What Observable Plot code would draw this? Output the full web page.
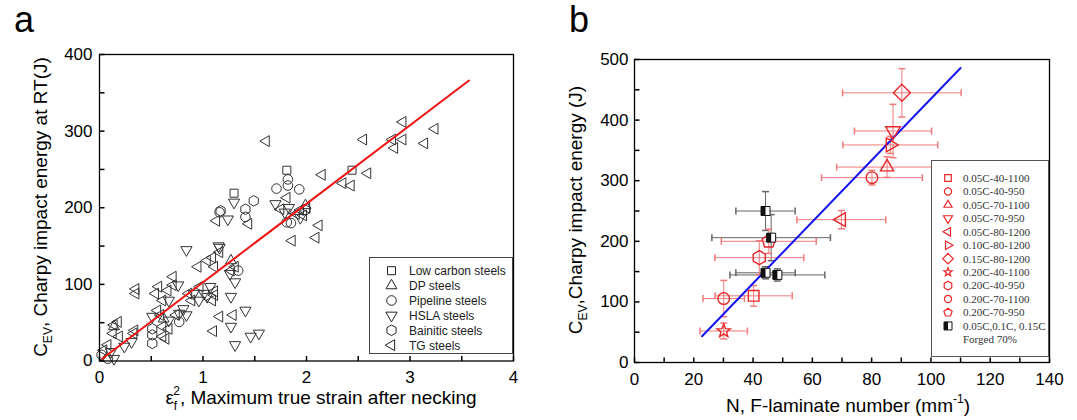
<!DOCTYPE html>
<html><head><meta charset="utf-8">
<script src="https://cdn.jsdelivr.net/npm/d3@7"></script>
<script src="https://cdn.jsdelivr.net/npm/@observablehq/plot@0.6"></script>
<style>
body{margin:0;background:#fff}
#wrap{display:flex;width:1077px;height:420px;overflow:hidden}
svg{display:block}
</style></head>
<body><div id="wrap"></div>
<script>
// ---------- Panel a data: [eps_f^2, Charpy energy (J)] ----------
const lowCarbon = [[1.30,219],[1.81,249],[2.44,249]];
const dpSteels = [[1.27,131],[1.99,203],[0.14,45],[0.62,55]];
const pipeline = [[1.16,194],[1.41,188],[1.71,225],[1.82,237],[1.82,229],[1.93,224],[1.81,181],[1.85,180],[1.34,118],[0.08,3],[0.77,51],[0.02,8]];
const hsla = [[1.30,207],[1.24,185],[0.84,145],[1.16,148],[1.70,205],[1.79,194],[1.94,187],[1.26,114],[1.31,103],[1.27,84],[1.41,66],[1.27,45],[1.31,21],[1.46,32],[1.54,36],[1.07,97],[1.01,88],[1.04,84],[0.96,79],[0.91,88],[0.84,60],[0.81,68],[0.76,99],[0.67,79],[0.77,62],[0.24,19],[0.31,25],[0.14,3],[0.11,12],[1.15,150],[1.83,200],[0.51,58],[0.67,53]];
const bainitic = [[1.49,209],[1.41,198],[1.99,197],[0.51,23],[0.51,34],[1.17,196],[0.51,42]];
const tgSteels = [[1.61,287],[2.55,289],[2.93,312],[3.24,303],[2.83,289],[2.85,278],[2.93,289],[3.14,284],[2.59,245],[2.15,243],[2.35,232],[2.43,229],[2.12,177],[2.09,161],[1.86,157],[1.81,213],[1.75,198],[1.94,197],[1.90,192],[1.13,183],[1.44,179],[1.16,142],[0.95,123],[1.04,131],[1.09,135],[1.11,123],[1.31,123],[1.16,58],[1.29,60],[1.10,39],[0.97,97],[0.86,88],[1.11,86],[1.09,79],[1.11,91],[0.71,110],[0.71,99],[0.57,97],[0.54,88],[0.61,79],[0.66,92],[0.56,66],[0.59,60],[0.74,60],[0.61,45],[0.67,42],[0.61,32],[0.64,29],[0.35,94],[0.35,88],[0.34,40],[0.33,36],[0.18,51],[0.14,47],[0.13,36],[0.08,21],[0.04,14],[0.19,32],[0.89,79],[1.27,118],[2.00,200],[1.97,190]];
const fitAx = [0.026, 3.57];
const fitAy = [2.9, 366];
const legendA = ["Low carbon steels","DP steels","Pipeline steels","HSLA steels","Bainitic steels","TG steels"];
const xTicksA = [0,1,2,3,4];
const yTicksA = [0,100,200,300,400];
const xMinorA = [0,0.5,1,1.5,2,2.5,3,3.5,4];
const yMinorA = [0,50,100,150,200,250,300,350,400];

// ---------- Panel b data ----------
const labelsB = ["0.05C-40-1100","0.05C-40-950","0.05C-70-1100","0.05C-70-950","0.05C-80-1200","0.10C-80-1200","0.15C-80-1200","0.20C-40-1100","0.20C-40-950","0.20C-70-1100","0.20C-70-950"];
const nB    = [40.2, 30.1, 85.2, 87.2, 69.8, 86.3, 90.2, 30.1, 42.1, 80.1, 45.3];
const eB    = [110, 105.5, 322.5, 382, 235.7, 359, 445, 52, 173, 305, 200];
const nErrB = [13, 7, 17, 13, 15, 16, 20, 8, 15, 17, 16];
const eErrB = [17, 30, 17, 44, 15, 14, 40, 13, 28, 12, 20];
const nForged    = [44.2, 46.1, 44.2, 48.2];
const eForged    = [250, 206, 148, 144.5];
const nErrForged = [10, 20, 10, 16];
const eErrForged = [32, 38, 10, 10];
const fitBx = [22.8, 110];
const fitBy = [43.4, 486];
const xTicksB = [0,20,40,60,80,100,120,140];
const yTicksB = [0,100,200,300,400,500];
const xMinorB = [0,10,20,30,40,50,60,70,80,90,100,110,120,130,140];
const yMinorB = [0,50,100,150,200,250,300,350,400,450,500];

// ---------- symbols ----------
function poly(pts){return {draw(ctx,size){const r=Math.sqrt(size/Math.PI);pts.forEach(([a,b],i)=>i?ctx.lineTo(a*r,b*r):ctx.moveTo(a*r,b*r));ctx.closePath();}};}
const reg=(n,rot)=>d3.range(n).map(k=>{const t=rot+2*Math.PI*k/n;return [Math.cos(t),Math.sin(t)];});
const SYM = {
  square: poly([[-1,-1],[1,-1],[1,1],[-1,1]]),
  halfLeft: poly([[-1,-1],[0,-1],[0,1],[-1,1]]),
  triUp: poly(reg(3,-Math.PI/2)),
  triDown: poly(reg(3,Math.PI/2)),
  triLeft: poly(reg(3,Math.PI)),
  triRight: poly(reg(3,0)),
  diamond: poly(reg(4,-Math.PI/2)),
  hexagon: poly(reg(6,-Math.PI/2)),
  pentagon: poly(reg(5,-Math.PI/2)),
  star: poly(d3.range(10).map(k=>{const t=-Math.PI/2+Math.PI*k/5,q=k%2?0.42:1;return [q*Math.cos(t),q*Math.sin(t)];})),
  circle: {draw(ctx,size){const r=Math.sqrt(size/Math.PI);ctx.moveTo(r,0);ctx.arc(0,0,r,0,2*Math.PI);}},
  tickUp: {draw(ctx,size){const r=Math.sqrt(size/Math.PI);ctx.moveTo(0,0);ctx.lineTo(0,-r);}},
  tickRight: {draw(ctx,size){const r=Math.sqrt(size/Math.PI);ctx.moveTo(0,0);ctx.lineTo(r,0);}},
  vbar: {draw(ctx,size){const r=Math.sqrt(size/Math.PI);ctx.moveTo(0,-r);ctx.lineTo(0,r);}},
  hbar: {draw(ctx,size){const r=Math.sqrt(size/Math.PI);ctx.moveTo(-r,0);ctx.lineTo(r,0);}}
};
const FONT = "'Liberation Sans', Arial, sans-serif";
const SERIF = "'Liberation Serif', 'Times New Roman', serif";

// ---------- Panel a ----------
const seriesA = [
  {data: lowCarbon, sym: SYM.square, r: 4},
  {data: dpSteels, sym: SYM.triUp, r: 6.3},
  {data: pipeline, sym: SYM.circle, r: 4.8},
  {data: hsla, sym: SYM.triDown, r: 6.5},
  {data: bainitic, sym: SYM.hexagon, r: 5.3},
  {data: tgSteels, sym: SYM.triLeft, r: 6.3}
];
const inkA = "#333";
const chartA = Plot.plot({
  width: 538, height: 420,
  marginLeft: 99, marginRight: 25, marginTop: 54, marginBottom: 59.5,
  x: {domain: [0,4]}, y: {domain: [0,400]},
  style: {fontFamily: FONT, fontSize: "17px", color: "black", background: "white", overflow: "visible"},
  marks: [
    Plot.dot(xMinorA, {x: d=>d, frameAnchor: "bottom", symbol: SYM.tickUp, r: 5, stroke: "black", fill: "none"}),
    Plot.dot(yMinorA, {y: d=>d, frameAnchor: "left", symbol: SYM.tickRight, r: 5, stroke: "black", fill: "none"}),
    ...seriesA.map(s => Plot.dot(s.data, {x: d=>d[0], y: d=>d[1], symbol: s.sym, r: s.r, stroke: inkA, fill: "none", strokeWidth: 1})),
    Plot.line(fitAx.map((x,i)=>[x,fitAy[i]]), {x: d=>d[0], y: d=>d[1], stroke: "#f01414", strokeWidth: 2}),
    Plot.frame({stroke: "black", strokeWidth: 1.3}),
    Plot.axisX({ticks: xTicksA, tickSize: 0, tickPadding: 9.5, fontSize: 17, label: null, tickFormat: d=>String(d)}),
    Plot.axisY({ticks: yTicksA, tickSize: 0, tickPadding: 7, fontSize: 17, label: null, tickFormat: d=>String(d)})
  ]
});

// ---------- Panel b ----------
const tableB = labelsB.map((label,i)=>({label, n: nB[i], e: eB[i], dn: nErrB[i], de: eErrB[i]}));
const tableF = nForged.map((n,i)=>({n, e: eForged[i], dn: nErrForged[i], de: eErrForged[i]}));
const symB = [
  {sym: SYM.square, r: 5.3},
  {sym: SYM.circle, r: 5.8},
  {sym: SYM.triUp, r: 7.6},
  {sym: SYM.triDown, r: 8.4},
  {sym: SYM.triLeft, r: 8},
  {sym: SYM.triRight, r: 8},
  {sym: SYM.diamond, r: 8.5},
  {sym: SYM.star, r: 7},
  {sym: SYM.hexagon, r: 7},
  {sym: SYM.circle, r: 5.8},
  {sym: SYM.pentagon, r: 7}
];
const red = "#e8262a", redErr = "#f07a7a", grayErr = "#666";
function errorMarks(data, color){
  return [
    Plot.ruleY(data, {y: "e", x1: d=>d.n-d.dn, x2: d=>d.n+d.dn, stroke: color, strokeWidth: 1}),
    Plot.ruleX(data, {x: "n", y1: d=>d.e-d.de, y2: d=>d.e+d.de, stroke: color, strokeWidth: 1}),
    Plot.dot(data, {x: d=>d.n-d.dn, y: "e", symbol: SYM.vbar, r: 3.5, stroke: color, fill: "none"}),
    Plot.dot(data, {x: d=>d.n+d.dn, y: "e", symbol: SYM.vbar, r: 3.5, stroke: color, fill: "none"}),
    Plot.dot(data, {x: "n", y: d=>d.e-d.de, symbol: SYM.hbar, r: 3.5, stroke: color, fill: "none"}),
    Plot.dot(data, {x: "n", y: d=>d.e+d.de, symbol: SYM.hbar, r: 3.5, stroke: color, fill: "none"})
  ];
}
const chartB = Plot.plot({
  width: 539, height: 420,
  marginLeft: 96, marginRight: 28, marginTop: 59, marginBottom: 58,
  x: {domain: [0,140]}, y: {domain: [0,500]},
  style: {fontFamily: FONT, fontSize: "17px", color: "black", background: "white", overflow: "visible"},
  marks: [
    Plot.dot(xMinorB, {x: d=>d, frameAnchor: "bottom", symbol: SYM.tickUp, r: 5, stroke: "black", fill: "none"}),
    Plot.dot(yMinorB, {y: d=>d, frameAnchor: "left", symbol: SYM.tickRight, r: 5, stroke: "black", fill: "none"}),
    ...errorMarks(tableF, grayErr),
    ...errorMarks(tableB, redErr),
    Plot.line(fitBx.map((x,i)=>[x,fitBy[i]]), {x: d=>d[0], y: d=>d[1], stroke: "#1414f0", strokeWidth: 2}),
    ...tableB.map((d,i) => Plot.dot([d], {x: "n", y: "e", symbol: symB[i].sym, r: symB[i].r, stroke: red, fill: "none", strokeWidth: 1.4})),
    Plot.dot(tableF, {x: "n", y: "e", symbol: SYM.square, r: 4.5, stroke: "#111", fill: "white", strokeWidth: 1}),
    Plot.dot(tableF, {x: "n", y: "e", symbol: SYM.halfLeft, r: 4.5, stroke: "none", fill: "#111"}),
    Plot.frame({stroke: "black", strokeWidth: 1.3}),
    Plot.axisX({ticks: xTicksB, tickSize: 0, tickPadding: 10, fontSize: 17, label: null, tickFormat: d=>String(d)}),
    Plot.axisY({ticks: yTicksB, tickSize: 0, tickPadding: 6, fontSize: 17, label: null, tickFormat: d=>String(d)})
  ]
});

// ---------- annotations: titles, panel letters, legends ----------
function addText(svg, x, y, parts, opts={}){
  const t = d3.select(svg).append("text")
    .attr("x", x).attr("y", y)
    .attr("font-family", opts.font || FONT)
    .attr("font-size", opts.size || 19)
    .attr("fill", opts.fill || "black")
    .attr("text-anchor", opts.anchor || "start");
  if (opts.rotate) t.attr("transform", `rotate(-90,${x},${y})`);
  parts.forEach(p => {
    const s = t.append("tspan").text(p.t);
    if (p.dy) s.attr("dy", p.dy);
    if (p.dx) s.attr("dx", p.dx);
    if (p.size) s.attr("font-size", p.size);
  });
  return t;
}
function legendText(g, x, y, txt, font, size, fill){
  g.append("text").attr("x", x).attr("y", y).attr("font-family", font)
    .attr("font-size", size).attr("fill", fill).attr("text-anchor", "start").text(txt);
}
// Panel a
addText(chartA, 14, 32, [{t: "a"}], {size: 36});
addText(chartA, 47, 207, [{t: "C"}, {t: "EV", dy: 5, size: 12}, {t: ", Charpy impact energy at RT(J)", dy: -5}], {anchor: "middle", rotate: true});
addText(chartA, 321, 404, [{t: "ε"}, {t: "f", dy: 6, size: 12}, {t: "2", dx: -4, dy: -15, size: 12}, {t: ", Maximum true strain after necking", dy: 9}], {anchor: "middle"});
// legend a
{
  const g = d3.select(chartA).append("g");
  g.append("rect").attr("x", 369.5).attr("y", 257.5).attr("width", 143).attr("height", 96)
    .attr("fill", "white").attr("stroke", "#444").attr("stroke-width", 1);
  legendA.forEach((name, i) => {
    const y = 270.7 + 14.9*i;
    const s = seriesA[i];
    g.append("path").attr("transform", `translate(391.5,${y})`)
      .attr("d", d3.symbol(s.sym, s.r*s.r*Math.PI)())
      .attr("fill", "none").attr("stroke", "#222").attr("stroke-width", 1);
    legendText(g, 409, y + 4.3, name, FONT, 12, "#222");
  });
}
// Panel b
addText(chartB, 31, 32, [{t: "b"}], {size: 36});
addText(chartB, 44, 210, [{t: "C"}, {t: "EV", dy: 5, size: 12}, {t: ",Charpy impact energy (J)", dy: -5}], {anchor: "middle", rotate: true});
addText(chartB, 310, 412, [{t: "N, F-laminate number (mm"}, {t: "-1", dy: -9, size: 12}, {t: ")", dy: 9}], {anchor: "middle"});
// legend b
{
  const g = d3.select(chartB).append("g");
  g.append("rect").attr("x", 393.5).attr("y", 160.5).attr("width", 117).attr("height", 196)
    .attr("fill", "white").attr("stroke", "#555").attr("stroke-width", 1);
  labelsB.forEach((name, i) => {
    const y = 178 + 13.45*i;
    const s = symB[i];
    const r = s.r*0.62;
    g.append("path").attr("transform", `translate(410,${y})`)
      .attr("d", d3.symbol(s.sym, r*r*Math.PI)())
      .attr("fill", "none").attr("stroke", red).attr("stroke-width", 1.2);
    legendText(g, 425, y + 3.8, name, SERIF, 11, "#333");
  });
  const y = 178 + 13.45*11;
  g.append("path").attr("transform", `translate(410,${y})`).attr("d", d3.symbol(SYM.square, 16*Math.PI)())
    .attr("fill", "white").attr("stroke", "#111");
  g.append("path").attr("transform", `translate(410,${y})`).attr("d", d3.symbol(SYM.halfLeft, 16*Math.PI)())
    .attr("fill", "#111");
  legendText(g, 425, y + 3.8, "0.05C,0.1C, 0.15C", SERIF, 11, "#333");
  legendText(g, 425, y + 13.45 + 3.8, "Forged 70%", SERIF, 11, "#333");
}

document.getElementById("wrap").append(chartA, chartB);
</script>
</body></html>
